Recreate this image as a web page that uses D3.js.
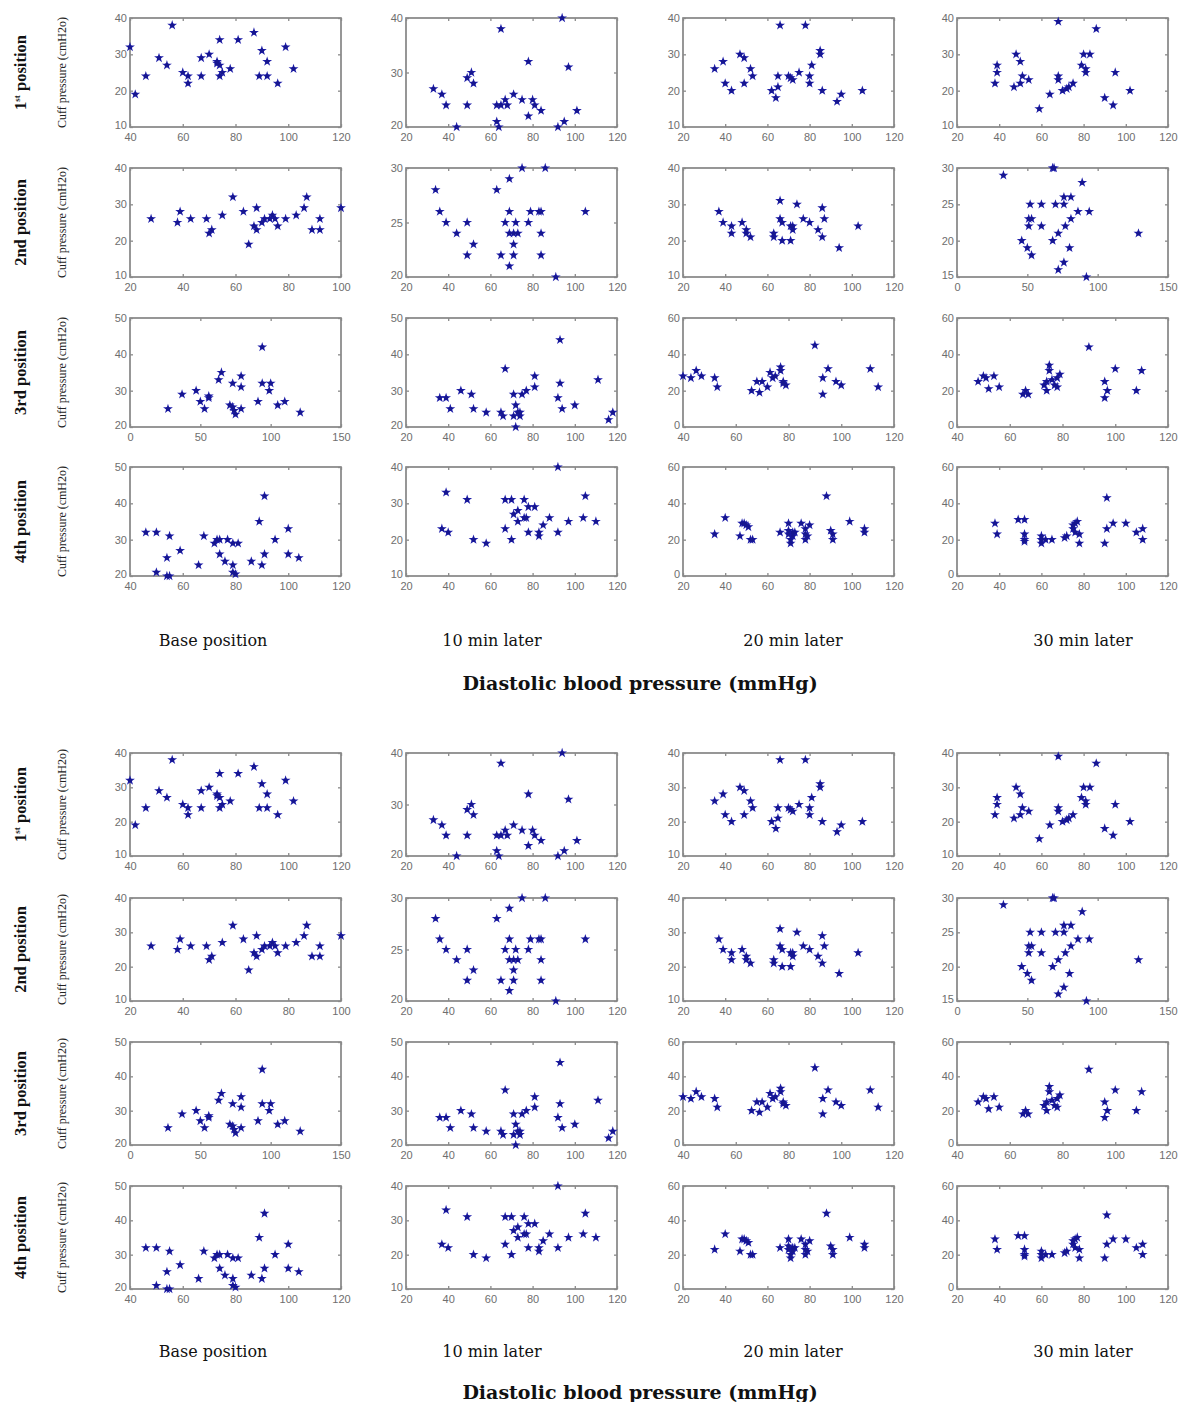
<!DOCTYPE html>
<html>
<head>
<meta charset="utf-8">
<title>Cuff pressure vs diastolic blood pressure</title>
<script src="https://cdn.jsdelivr.net/npm/d3@7"></script>
<style>
  body { margin: 0; background: #fff; }
  svg { display: block; }
</style>
</head>
<body>
<svg id="chart"></svg>
<script>
// column / row labels
var colLabels = ["Base position", "10 min later", "20 min later", "30 min later"];
var rowLabels = [["1", "st"], ["2nd", ""], ["3rd", ""], ["4th", ""]];
var xTitle = "Diastolic blood pressure (mmHg)";
var yTitle = "Cuff pressure (cmH2o)";

// axis domains + tick values, row by row (4 columns each)
var xDomains = [
  [[40, 120], [20, 120], [20, 120], [20, 120]],
  [[20, 100], [20, 120], [20, 120], [0, 150]],
  [[0, 150], [20, 120], [40, 120], [40, 120]],
  [[40, 120], [20, 120], [20, 120], [20, 120]]
];
var yDomains = [
  [[10, 40], [20, 40], [10, 40], [10, 40]],
  [[10, 40], [20, 30], [10, 40], [15, 30]],
  [[20, 50], [20, 50], [0, 60], [0, 60]],
  [[20, 50], [10, 40], [0, 60], [0, 60]]
];
var xTicks = [
  [[40, 60, 80, 100, 120], [20, 40, 60, 80, 100, 120], [20, 40, 60, 80, 100, 120], [20, 40, 60, 80, 100, 120]],
  [[20, 40, 60, 80, 100], [20, 40, 60, 80, 100, 120], [20, 40, 60, 80, 100, 120], [0, 50, 100, 150]],
  [[0, 50, 100, 150], [20, 40, 60, 80, 100, 120], [40, 60, 80, 100, 120], [40, 60, 80, 100, 120]],
  [[40, 60, 80, 100, 120], [20, 40, 60, 80, 100, 120], [20, 40, 60, 80, 100, 120], [20, 40, 60, 80, 100, 120]]
];
var yTicks = [
  [[10, 20, 30, 40], [20, 30, 40], [10, 20, 30, 40], [10, 20, 30, 40]],
  [[10, 20, 30, 40], [20, 25, 30], [10, 20, 30, 40], [15, 20, 25, 30]],
  [[20, 30, 40, 50], [20, 30, 40, 50], [0, 20, 40, 60], [0, 20, 40, 60]],
  [[20, 30, 40, 50], [10, 20, 30, 40], [0, 20, 40, 60], [0, 20, 40, 60]]
];

// points [diastolic, cuff pressure]
var p1Base = [[40,32],[42,19],[46,24],[51,29],[54,27],[56,38],[60,25],[62,24],[62,22],[67,24],[67,29],[70,30],[73,28],[73,27.5],[74,27],[74,34],[74,24],[75,25],[78,26],[81,34],[87,36],[90,31],[92,28],[89,24],[92,24],[96,22],[99,32],[102,26]];
var p1Min10 = [[33,27],[37,26],[39,24],[44,20],[49,24],[49,29],[51,30],[52,28],[63,24],[63,21],[64,20],[65,38],[65,24],[67,25],[68,24],[71,26],[75,25],[78,32],[78,22],[80,25],[81,24],[84,23],[92,20],[94,40],[95,21],[97,31],[101,23]];
var p1Min20 = [[35,26],[39,28],[40,22],[43,20],[47,30],[49,29],[49,22],[52,26],[53,24],[62,20],[64,18],[65,21],[65,24],[66,38],[70,24],[71,23.5],[72,23],[75,25],[78,38],[80,24],[80,22],[81,27],[85,31],[85,30],[86,20],[93,17],[95,19],[105,20]];
var p1Min30 = [[38,22],[39,25],[39,27],[47,21],[48,30],[50,28],[50,22],[51,24],[54,23],[59,15],[64,19],[68,24],[68,23],[68,39],[70,20],[72,20.5],[73,21],[75,22],[79,27],[80,30],[83,30],[81,26],[81,25],[86,37],[90,18],[94,16],[95,25],[102,20]];

var p2Base = [[28,26],[38,25],[39,28],[43,26],[49,26],[50,22],[51,23],[55,27],[59,32],[63,28],[65,19],[68,29],[67,24],[68,23],[70,25],[71,26],[73,26],[74,27],[75,26],[76,24],[79,26],[83,27],[86,29],[87,32],[89,23],[92,23],[92,26],[100,29]];
var p2Min10 = [[34,28],[36,26],[39,25],[44,24],[49,25],[52,23],[49,22],[63,28],[65,22],[69,29],[69,26],[67,25],[69,24],[71,24],[71,23],[71,22],[69,21],[72,25],[73,24],[75,30],[78,25],[79,26],[83,26],[84,26],[84,24],[84,22],[86,30],[91,20],[105,26]];
var p2Min20 = [[37,28],[39,25],[43,24],[43,22],[48,25],[50,23],[50,22],[52,21],[63,22],[63,21],[67,20],[66,31],[66,26],[67,25],[71,20],[71,24],[72,24],[72,23],[74,30],[77,26],[80,25],[84,23],[86,29],[87,26],[86,21],[94,18],[103,24]];
var p2Min30 = [[33,29],[46,20],[50,19],[53,18],[51,22],[51,23],[53,23],[52,25],[60,25],[60,22],[68,30],[69,30],[68,20],[70,25],[72,21],[76,25],[76,26],[77,22],[81,26],[81,23],[80,19],[76,17],[72,16],[86,24],[89,28],[92,15],[94,24],[129,21]];

var p3Base = [[27,25],[37,29],[47,30],[50,27],[53,25],[56,28.5],[56,28],[63,33],[65,35],[73,32],[71,26],[73,25.5],[74,24.5],[75,23.5],[79,25],[79,34],[79,31],[91,27],[94,42],[94,32],[100,32],[99,30],[105,26],[110,27],[121,24]];
var p3Min10 = [[36,28],[39,28],[41,25],[46,30],[51,29],[52,25],[58,24],[65,24],[67,36],[66,23],[71,23],[71,29],[72,26],[73,24],[74,23],[74,24],[72,20],[75,29],[77,30],[81,31],[81,34],[92,28],[93,32],[93,44],[94,25],[100,26],[111,33],[116,22],[118,24]];
var p3Min20 = [[40,28],[43,27],[45,31],[47,28],[52,27],[53,22],[66,20],[69,19],[68,25],[70,25],[72,22],[73,30],[74,27],[75,28],[77,33],[77,31],[78,25],[78,24],[79,23],[90,45],[93,27],[93,18],[95,32],[98,25],[100,23],[111,32],[114,22]];
var p3Min30 = [[48,25],[50,28],[51,27],[52,21],[54,28],[56,22],[65,18],[66,20],[67,18],[74,20],[73,23],[74,25],[75,34],[75,31],[76,26],[77,23],[78,27],[78,22],[79,29],[90,44],[96,25],[97,20],[96,16],[100,32],[108,20],[110,31]];

var p4Base = [[46,32],[50,32],[55,31],[54,25],[50,21],[54,20],[55,20],[59,27],[66,23],[68,31],[72,29],[73,30],[74,30],[74,26],[76,24],[77,30],[79,29],[79,23],[79,21],[80,20.5],[81,29],[86,24],[89,35],[91,42],[90,23],[91,26],[95,30],[100,33],[100,26],[104,25]];
var p4Min10 = [[39,33],[37,23],[40,22],[49,31],[52,20],[58,19],[67,23],[67,31],[70,31],[70,20],[71,27],[73,28],[73,25],[76,31],[76,26],[77,26],[78,29],[78,22],[81,29],[83,22],[83,21],[85,24],[88,26],[92,40],[92,22],[97,25],[104,26],[105,32],[110,25]];
var p4Min20 = [[35,23],[40,32],[47,22],[48,29],[49,29],[50,28],[51,27],[52,20],[53,20],[66,24],[70,29],[70,25],[70,23],[71,20],[71,18],[72,22],[72,24],[73,24],[76,29],[78,26],[78,23],[78,20],[79,22],[80,28],[88,44],[90,25],[91,23],[91,20],[99,30],[106,26],[106,24]];
var p4Min30 = [[38,29],[39,23],[49,31],[52,31],[52,23],[52,20],[52,19],[60,20],[60,18],[60,22],[62,20],[65,20],[71,21],[72,22],[75,26],[75,28],[76,29],[77,30],[76,24],[78,18],[78,23],[90,18],[91,43],[91,26],[94,29],[100,29],[105,24],[108,20],[108,26]];

var points = [
  [p1Base, p1Min10, p1Min20, p1Min30],
  [p2Base, p2Min10, p2Min20, p2Min30],
  [p3Base, p3Min10, p3Min20, p3Min30],
  [p4Base, p4Min10, p4Min20, p4Min30]
];

// page layout
var W = 1180, H = 1402;
var colX = [130, 406, 683, 957];
var panelW = 211;
var headX = [213, 492, 793, 1083];

// the figure is printed twice, the lower copy a bit squashed
var halves = [
  { rowTop: [18, 168, 318, 467], panelH: 109, headY: 646, titleY: 690 },
  { rowTop: [753, 898, 1042, 1186], panelH: 103, headY: 1357, titleY: 1399 }
];

var svg = d3.select("#chart")
  .attr("width", W)
  .attr("height", H);

// soft blur so the stars look like the scanned markers
svg.append("defs").append("filter")
  .attr("id", "soft")
  .append("feGaussianBlur")
  .attr("stdDeviation", 0.5);

var star = d3.symbol().type(d3.symbolStar).size(30);
var dot = d3.symbol().type(d3.symbolCircle).size(14);

halves.forEach(function(half) {
  var g = svg.append("g");

  for (var r = 0; r < 4; r++) {
    var top = half.rowTop[r];
    var h = half.panelH;

    // row label, e.g. "1st position"
    var rl = g.append("text")
      .attr("transform", "translate(26," + (top + h / 2) + ") rotate(-90)")
      .attr("text-anchor", "middle")
      .attr("font-family", "'Liberation Serif', serif")
      .attr("font-weight", "bold")
      .attr("font-size", 16.5)
      .attr("fill", "#111");
    rl.append("tspan").text(rowLabels[r][0]);
    if (rowLabels[r][1]) {
      rl.append("tspan").attr("font-size", 9).attr("dy", -6).text(rowLabels[r][1]);
      rl.append("tspan").attr("dy", 6).text(" position");
    } else {
      rl.append("tspan").text(" position");
    }

    // y axis title
    g.append("text")
      .attr("transform", "translate(66," + (top + h / 2) + ") rotate(-90)")
      .attr("text-anchor", "middle")
      .attr("font-family", "'Liberation Serif', serif")
      .attr("font-size", 12)
      .attr("fill", "#222")
      .text(yTitle);

    for (var c = 0; c < 4; c++) {
      var left = colX[c];
      var x = d3.scaleLinear().domain(xDomains[r][c]).range([left, left + panelW]);
      var y = d3.scaleLinear().domain(yDomains[r][c]).range([top + h, top]);

      var pg = g.append("g").attr("class", "panel");

      // frame
      pg.append("rect")
        .attr("x", left)
        .attr("y", top)
        .attr("width", panelW)
        .attr("height", h)
        .attr("fill", "#fff")
        .attr("stroke", "#7d7d7d")
        .attr("stroke-width", 1.6);

      // matlab-ish inward ticks on every side
      var axB = pg.append("g").attr("transform", "translate(0," + (top + h) + ")")
        .call(d3.axisBottom(x).tickValues(xTicks[r][c]).tickSizeInner(-3).tickSizeOuter(0).tickPadding(6));
      var axT = pg.append("g").attr("transform", "translate(0," + top + ")")
        .call(d3.axisTop(x).tickValues(xTicks[r][c]).tickSizeInner(-3).tickSizeOuter(0).tickFormat(""));
      var axL = pg.append("g").attr("transform", "translate(" + left + ",0)")
        .call(d3.axisLeft(y).tickValues(yTicks[r][c]).tickSizeInner(-3).tickSizeOuter(0).tickPadding(3));
      var axR = pg.append("g").attr("transform", "translate(" + (left + panelW) + ",0)")
        .call(d3.axisRight(y).tickValues(yTicks[r][c]).tickSizeInner(-3).tickSizeOuter(0).tickFormat(""));

      [axB, axT, axL, axR].forEach(function(ax) {
        ax.select(".domain").remove();
        ax.selectAll(".tick line").attr("stroke", "#8a8a8a").attr("stroke-width", 1.3);
        ax.selectAll(".tick text")
          .attr("fill", "#6e6e6e")
          .attr("font-family", "'Liberation Sans', Arial, sans-serif")
          .attr("font-size", 11);
      });
      // lift the lowest y label a touch, like the matlab corner
      axL.selectAll(".tick text").filter(function(d, i) { return i === 0; }).attr("dy", "0.1em");

      // markers
      var mk = pg.append("g").attr("filter", "url(#soft)");
      mk.selectAll("path.s")
        .data(points[r][c])
        .enter()
        .append("path")
        .attr("class", "s")
        .attr("d", star)
        .attr("transform", function(d) {
          return "translate(" + x(d[0]) + "," + y(d[1]) + ")";
        })
        .attr("fill", "#1c1ca8");
      mk.selectAll("path.d")
        .data(points[r][c])
        .enter()
        .append("path")
        .attr("class", "d")
        .attr("d", dot)
        .attr("transform", function(d) {
          return "translate(" + x(d[0]) + "," + y(d[1]) + ")";
        })
        .attr("fill", "#15158f");
    }
  }

  // column headings
  g.selectAll("text.head")
    .data(colLabels)
    .enter()
    .append("text")
    .attr("class", "head")
    .attr("x", function(d, i) { return headX[i]; })
    .attr("y", half.headY)
    .attr("text-anchor", "middle")
    .attr("font-family", "'DejaVu Serif', serif")
    .attr("font-size", 16)
    .attr("fill", "#111")
    .text(function(d) { return d; });

  // shared x title
  g.append("text")
    .attr("x", 640)
    .attr("y", half.titleY)
    .attr("text-anchor", "middle")
    .attr("font-family", "'DejaVu Serif', serif")
    .attr("font-weight", "bold")
    .attr("font-size", 19)
    .attr("fill", "#111")
    .text(xTitle);
});
</script>
</body>
</html>
